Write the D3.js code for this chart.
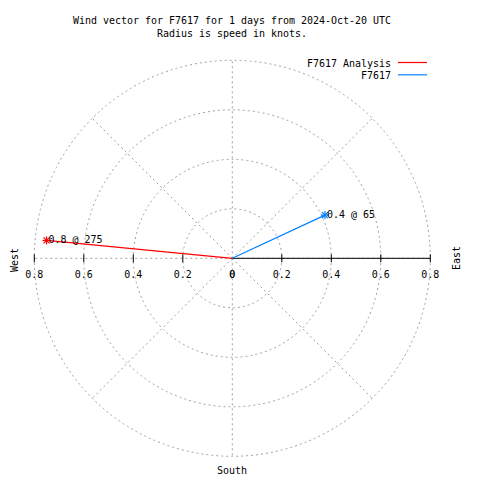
<!DOCTYPE html>
<html><head><meta charset="utf-8">
<script src="https://cdn.jsdelivr.net/npm/d3@7"></script>
<style>body{margin:0;background:#fff}svg{display:block}</style></head>
<body>
<script>
// ---- data ----
const seriesNames = ["F7617 Analysis", "F7617"];
const seriesColors = ["#ff0000", "#0080ff"];
const speeds = [0.754, 0.413];          // knots
const directions = [275.5, 65];         // degrees, compass
const pointLabels = ["0.8 @ 275", "0.4 @ 65"];
const radialTicks = [0.2, 0.4, 0.6, 0.8];
const axisTickValues = [-0.8, -0.6, -0.4, -0.2, 0, 0, 0.2, 0.4, 0.6, 0.8];
const axisTickLabels = ["0.8", "0.6", "0.4", "0.2", "0", "0", "0.2", "0.4", "0.6", "0.8"];
const spokeAngles = [0, 45, 90, 135, 180, 225, 270, 315];
const titleLines = ["Wind vector for F7617 for 1 days from 2024-Oct-20 UTC", "Radius is speed in knots."];
const compassLabels = ["West", "East", "South"];

// ---- layout ----
const W = 480, H = 480;
const cx = 232.3, cy = 258.3, R = 198;
const rMax = 0.8;

const svg = d3.select("body").append("svg").attr("width", W).attr("height", H);
const r = d3.scaleLinear().domain([0, rMax]).range([0, R]);
const x = d3.scaleLinear().domain([-rMax, rMax]).range([cx - R, cx + R]);

const FONT = "'DejaVu Sans Mono', 'Liberation Mono', monospace";
function txt(sel, px, py, s, anchor, rot) {
  const t = sel.append("text")
    .attr("x", px).attr("y", py)
    .attr("font-family", FONT).attr("font-size", 11)
    .attr("fill", "#000")
    .attr("text-anchor", anchor || "start")
    .attr("textLength", s.length * 6)
    .attr("lengthAdjust", "spacingAndGlyphs")
    .text(s);
  if (rot) t.attr("transform", `rotate(${rot},${px},${py})`);
  return t;
}

const gridColor = "#a0a0a0";
const dash = "2,3";

// tick labels (under grid)
const labG = svg.append("g");
axisTickValues.forEach((v, i) => txt(labG, x(v), 278, axisTickLabels[i], "middle"));

// grid circles
const grid = svg.append("g").attr("fill", "none").attr("stroke", gridColor).attr("stroke-width", 1).attr("stroke-dasharray", dash);
grid.selectAll("circle").data(radialTicks).join("circle")
  .attr("cx", cx).attr("cy", cy).attr("r", d => r(d));
// spokes
grid.selectAll("line").data(spokeAngles).join("line")
  .attr("x1", cx).attr("y1", cy)
  .attr("x2", d => cx + r(rMax) * Math.sin(d * Math.PI / 180))
  .attr("y2", d => cy - r(rMax) * Math.cos(d * Math.PI / 180));

// black axis (east half) + ticks
const ax = svg.append("g").attr("stroke", "#000").attr("stroke-width", 1);
ax.append("line").attr("x1", x(0)).attr("x2", x(rMax)).attr("y1", cy).attr("y2", cy);
ax.selectAll("line.tk").data(axisTickValues.filter(v => v !== 0)).join("line").attr("class", "tk")
  .attr("x1", d => x(d)).attr("x2", d => x(d)).attr("y1", cy - 4).attr("y2", cy + 4);

// vectors
function pt(s, dir) {
  const a = dir * Math.PI / 180;
  return [cx + r(s) * Math.sin(a), cy - r(s) * Math.cos(a)];
}
const lineGen = d3.line();
speeds.forEach((s, i) => {
  const p = pt(s, directions[i]);
  const col = seriesColors[i];
  svg.append("path").attr("d", lineGen([[cx, cy], p]))
    .attr("stroke", col).attr("stroke-width", 1.2).attr("fill", "none");
  const m = svg.append("g").attr("stroke", col).attr("stroke-width", 1.2);
  const k = 4;
  [[-k, 0, k, 0], [0, -k, 0, k], [-k * 0.75, -k * 0.75, k * 0.75, k * 0.75], [-k * 0.75, k * 0.75, k * 0.75, -k * 0.75]]
    .forEach(d => m.append("line").attr("x1", p[0] + d[0]).attr("y1", p[1] + d[1]).attr("x2", p[0] + d[2]).attr("y2", p[1] + d[3]));
  txt(svg, p[0] + 2, p[1] + 3, pointLabels[i], "start");
});

// titles
titleLines.forEach((t, i) => txt(svg, 232, 24 + i * 12.5, t, "middle"));

// compass labels
txt(svg, 18, 260, compassLabels[0], "middle", -90);
txt(svg, 460, 258, compassLabels[1], "middle", -90);
txt(svg, 232, 474, compassLabels[2], "middle");

// legend
seriesNames.forEach((n, i) => {
  const ly = 67 + i * 12.3;
  txt(svg, 391, ly, n, "end");
  svg.append("line").attr("x1", 398).attr("x2", 427).attr("y1", ly - 4.5).attr("y2", ly - 4.5)
    .attr("stroke", seriesColors[i]).attr("stroke-width", 1.2);
});
</script>
</body></html>
